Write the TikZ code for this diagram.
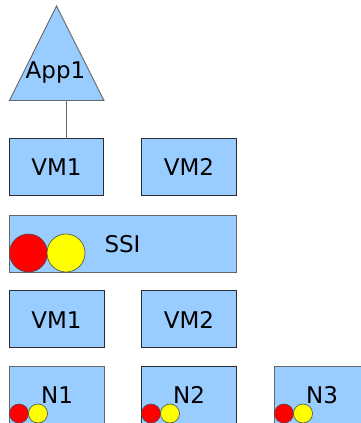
\documentclass[tikz,border=0pt]{standalone}
\usepackage{fontspec}
\setmainfont{DejaVu Sans}
\definecolor{boxblue}{HTML}{99CCFF}
\definecolor{edge}{HTML}{2A2A33}
\definecolor{dotred}{HTML}{FF0000}
\definecolor{dotyellow}{HTML}{FFFF00}
\tikzset{
  boxstyle/.style={draw=edge, fill=boxblue, line width=0.9pt},
  lbl/.style={font=\fontsize{23}{26}\selectfont, anchor=base, inner sep=0pt, text=black},
  dotstyle/.style={draw=black!70, line width=0.6pt},
}
\begin{document}
\begin{tikzpicture}[x=1pt,y=-1pt]
\useasboundingbox (0,0) rectangle (361,423);
\begin{scope}
\clip (0,0) rectangle (361,423);
% triangle App1
\draw[boxstyle, draw=black!60, line join=miter] (56.5,6) coordinate (apex) -- (104,100.5) -- (9.5,100.5) -- cycle;
\node[lbl] (app) at (55.5,78) {App1};
\coordinate (appbase) at (66,100.5);
% top VMs
\draw[boxstyle] (9.5,138.5) rectangle (103.5,195.5);
\draw[boxstyle] (141.5,138.5) rectangle (236.5,195.5);
\node[lbl] (vm1a) at (56.5,175) {VM1};
\node[lbl] (vm2a) at (189,175) {VM2};
\coordinate (vm1top) at (66,138.5);
\draw[black!60, line width=0.8pt] (appbase) -- (vm1top);
% SSI
\draw[boxstyle, draw=black!60] (9.5,215) rectangle (236.5,272);
\node[lbl] (ssi) at (122.5,252) {SSI};
\draw[dotstyle, fill=dotred] (28.5,253) circle (19);
\draw[dotstyle, fill=dotyellow] (66,253) circle (19);
% lower VMs
\draw[boxstyle] (9.5,290.5) rectangle (104,347.5);
\draw[boxstyle] (141.5,290.5) rectangle (236.5,347.5);
\node[lbl] (vm1b) at (56.5,328) {VM1};
\node[lbl] (vm2b) at (189,328) {VM2};
% nodes
\draw[boxstyle, draw=black!60] (9.5,366.5) rectangle (104,440);
\draw[boxstyle] (141.5,366.5) rectangle (236.5,440);
\draw[boxstyle, draw=black!60] (274.5,366.5) rectangle (370,440);
\node[lbl] (n1) at (57,403) {N1};
\node[lbl] (n2) at (189,403) {N2};
\node[lbl] (n3) at (322,403) {N3};
\foreach \x in {9.5,141.5,274.5}{
  \draw[dotstyle, fill=dotred] (\x+9.5,413.5) circle (9.5);
  \draw[dotstyle, fill=dotyellow] (\x+28.5,413.5) circle (9.5);
}
\end{scope}
\end{tikzpicture}
\end{document}
